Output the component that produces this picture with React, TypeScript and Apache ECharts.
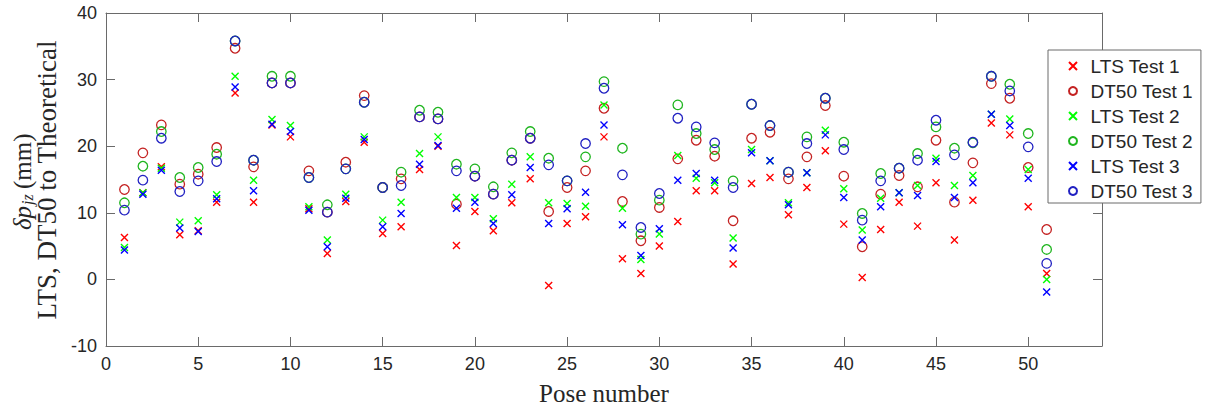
import React, { useEffect, useRef } from "react";
import * as echarts from "echarts";

const poses = [1, 2, 3, 4, 5, 6, 7, 8, 9, 10, 11, 12, 13, 14, 15, 16, 17, 18, 19, 20, 21, 22, 23, 24, 25, 26, 27, 28, 29, 30, 31, 32, 33, 34, 35, 36, 37, 38, 39, 40, 41, 42, 43, 44, 45, 46, 47, 48, 49, 50, 51];

const ltsTest1 = [6.3, 13.0, 16.9, 6.7, 7.3, 11.6, 28.0, 11.6, 23.2, 21.4, 10.6, 3.9, 11.7, 20.6, 6.9, 7.9, 16.5, 20.0, 5.1, 10.2, 7.3, 11.5, 15.1, -0.9, 8.4, 9.4, 21.4, 3.1, 0.9, 5.0, 8.7, 13.3, 13.3, 2.3, 14.4, 15.3, 9.7, 13.8, 19.3, 8.3, 0.3, 7.5, 11.6, 8.0, 14.5, 5.9, 11.9, 23.5, 21.7, 10.9, 0.9];
const dt50Test1 = [13.5, 19.0, 23.2, 14.3, 15.8, 19.8, 34.7, 16.9, 29.5, 29.5, 16.3, 10.1, 17.6, 27.6, 13.8, 15.1, 24.4, 24.1, 11.3, 15.5, 12.8, 17.9, 21.2, 10.2, 13.8, 16.3, 25.7, 11.7, 5.8, 10.8, 18.1, 20.9, 18.5, 8.8, 21.2, 22.1, 15.1, 18.4, 26.1, 15.5, 4.9, 12.8, 15.6, 13.9, 20.9, 11.6, 17.5, 29.4, 27.2, 16.8, 7.5];
const ltsTest2 = [4.8, 13.0, 16.7, 8.6, 8.8, 12.7, 30.5, 14.9, 24.0, 23.1, 10.9, 5.9, 12.8, 21.4, 8.9, 11.6, 18.9, 21.4, 12.3, 12.3, 9.1, 14.3, 18.4, 11.5, 11.4, 11.0, 26.2, 10.7, 3.0, 6.8, 18.6, 15.2, 14.5, 6.2, 19.5, 17.8, 11.5, 16.0, 22.4, 13.6, 7.4, 12.2, 13.0, 14.1, 18.2, 14.1, 15.6, 24.8, 24.1, 16.5, 0.0];
const dt50Test2 = [11.5, 17.0, 22.2, 15.3, 16.8, 18.8, 35.8, 17.9, 30.5, 30.5, 15.3, 11.2, 16.6, 26.6, 13.8, 16.1, 25.4, 25.1, 17.3, 16.6, 13.9, 19.0, 22.2, 18.2, 14.8, 18.4, 29.7, 19.7, 6.8, 11.9, 26.2, 21.9, 19.5, 14.8, 26.3, 23.1, 16.1, 21.4, 27.2, 20.6, 9.9, 15.9, 16.7, 18.9, 22.9, 19.7, 20.5, 30.5, 29.3, 21.9, 4.5];
const ltsTest3 = [4.4, 12.8, 16.4, 7.7, 7.2, 12.1, 28.9, 13.3, 23.3, 22.2, 10.4, 4.9, 12.2, 21.0, 7.9, 9.9, 17.3, 20.1, 10.7, 11.6, 8.4, 12.7, 16.8, 8.4, 10.6, 13.1, 23.2, 8.2, 3.6, 7.6, 14.9, 15.9, 14.9, 4.7, 19.0, 17.8, 11.2, 16.0, 21.7, 12.3, 5.9, 10.9, 13.0, 12.6, 17.7, 12.3, 14.5, 24.8, 23.1, 15.2, -1.9];
const dt50Test3 = [10.4, 14.9, 21.2, 13.2, 14.8, 17.7, 35.8, 17.9, 29.5, 29.5, 15.3, 10.1, 16.6, 26.6, 13.8, 14.1, 24.4, 24.1, 16.3, 15.5, 12.8, 17.9, 21.2, 17.2, 14.8, 20.4, 28.7, 15.7, 7.8, 12.9, 24.2, 22.9, 20.5, 13.8, 26.3, 23.1, 16.1, 20.4, 27.2, 19.5, 8.9, 14.8, 16.7, 17.9, 23.9, 18.7, 20.6, 30.5, 28.3, 19.9, 2.4];

const seriesNames = ["LTS Test 1", "DT50 Test 1", "LTS Test 2", "DT50 Test 2", "LTS Test 3", "DT50 Test 3"];
const seriesValues = [ltsTest1, dt50Test1, ltsTest2, dt50Test2, ltsTest3, dt50Test3];
const seriesColors = ["#ff0000", "#c42222", "#00ff00", "#1fb51f", "#0000ff", "#2121c2"];
const seriesIsCross = [true, false, true, false, true, false];

const xMin = 0;
const xMax = 54;
const xInterval = 5;
const yMin = -10;
const yMax = 40;
const yInterval = 10;

const CROSS = "path://M0,0L10,10M10,0L0,10";
const AXIS_COLOR = "#6a6a6a";
const TEXT_COLOR = "#262626";
const SANS = "Liberation Sans, Arial, sans-serif";
const SERIF = "Liberation Serif, Times New Roman, serif";

export default function App() {
  const ref = useRef<HTMLDivElement>(null);

  useEffect(() => {
    if (!ref.current) return;
    const chart = echarts.init(ref.current, undefined, { renderer: "svg" });

    const series = seriesNames.map((name, k) => ({
      name,
      type: "scatter",
      xAxisIndex: 0,
      yAxisIndex: 0,
      symbol: seriesIsCross[k] ? CROSS : "circle",
      symbolSize: seriesIsCross[k] ? 7 : 9.5,
      itemStyle: {
        color: "rgba(0,0,0,0)",
        borderColor: seriesColors[k],
        borderWidth: seriesIsCross[k] ? 1.4 : 1.3,
        opacity: 1,
      },
      emphasis: { disabled: true },
      data: poses.map((p, i) => [p, seriesValues[k][i]]),
    }));

    const xCommon = {
      type: "value",
      min: xMin,
      max: xMax,
      interval: xInterval,
      splitLine: { show: false },
      axisLine: { show: true, onZero: false, lineStyle: { color: AXIS_COLOR, width: 1 } },
      axisTick: { show: true, inside: true, length: 9, lineStyle: { color: AXIS_COLOR } },
    };
    const yCommon = {
      type: "value",
      min: yMin,
      max: yMax,
      interval: yInterval,
      splitLine: { show: false },
      axisLine: { show: true, onZero: false, lineStyle: { color: AXIS_COLOR, width: 1 } },
      axisTick: { show: true, inside: true, length: 9, lineStyle: { color: AXIS_COLOR } },
    };

    chart.setOption({
      animation: false,
      backgroundColor: "#ffffff",
      grid: { left: 106, top: 13, width: 996, height: 333, containLabel: false },
      xAxis: [
        {
          ...xCommon,
          position: "bottom",
          name: "Pose number",
          nameLocation: "middle",
          nameGap: 35,
          nameTextStyle: { fontFamily: SERIF, fontSize: 25, color: TEXT_COLOR },
          axisLabel: {
            show: true,
            margin: 9,
            fontFamily: SANS,
            fontSize: 18,
            color: TEXT_COLOR,
            formatter: (v: number) => (v % xInterval === 0 ? String(v) : ""),
          },
        },
        {
          ...xCommon,
          position: "top",
          axisLabel: { show: false },
        },
      ],
      yAxis: [
        {
          ...yCommon,
          position: "left",
          axisLabel: { show: true, margin: 9, fontFamily: SANS, fontSize: 18, color: TEXT_COLOR },
        },
        {
          ...yCommon,
          position: "right",
          axisLabel: { show: false },
        },
      ],
      legend: {
        orient: "vertical",
        left: 1048,
        top: 50,
        padding: [6, 8, 2, 20],
        itemWidth: 25,
        itemHeight: 8,
        itemGap: 5,
        backgroundColor: "#ffffff",
        borderColor: AXIS_COLOR,
        borderWidth: 1,
        borderRadius: 0,
        textStyle: {
          fontFamily: SANS,
          fontSize: 19,
          color: TEXT_COLOR,
          lineHeight: 20,
        },
        data: seriesNames,
        z: 10,
      },
      graphic: [
        {
          type: "text",
          x: 22,
          y: 230,
          rotation: Math.PI / 2,
          style: {
            text: "δp",
            fontFamily: SERIF,
            fontSize: 25,
            fontStyle: "italic",
            fill: TEXT_COLOR,
            align: "left",
            verticalAlign: "middle",
          },
        },
        {
          type: "text",
          x: 27,
          y: 205,
          rotation: Math.PI / 2,
          style: {
            text: "jz",
            fontFamily: SERIF,
            fontSize: 16,
            fontStyle: "italic",
            fill: TEXT_COLOR,
            align: "left",
            verticalAlign: "middle",
          },
        },
        {
          type: "text",
          x: 22,
          y: 189,
          rotation: Math.PI / 2,
          style: {
            text: "(mm)",
            fontFamily: SERIF,
            fontSize: 25,
            fill: TEXT_COLOR,
            align: "left",
            verticalAlign: "middle",
          },
        },
        {
          type: "text",
          x: 47,
          y: 180,
          rotation: Math.PI / 2,
          style: {
            text: "LTS, DT50 to Theoretical",
            fontFamily: SERIF,
            fontSize: 27,
            fill: TEXT_COLOR,
            align: "center",
            verticalAlign: "middle",
          },
        },
      ],
      series,
    });

    return () => chart.dispose();
  }, []);

  return (
    <div
      ref={ref}
      style={{ position: "absolute", left: 0, top: 0, width: 1214, height: 411 }}
    />
  );
}
